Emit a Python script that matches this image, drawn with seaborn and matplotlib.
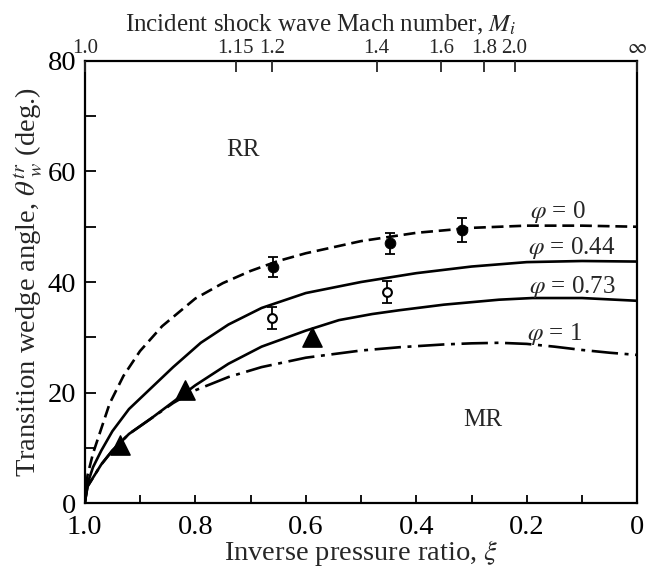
import matplotlib
matplotlib.use("Agg")
import matplotlib.pyplot as plt
import seaborn as sns

# curves: xi = inverse pressure ratio, theta = transition wedge angle (deg)
xi_phi0 = [1.0, 0.995, 0.985, 0.97, 0.955, 0.93, 0.9, 0.86, 0.8, 0.75, 0.7, 0.65,
           0.6, 0.5, 0.4, 0.3, 0.2, 0.1, 0.0]
theta_phi0 = [0, 5, 9, 13.5, 18, 23, 27.5, 32, 37, 39.8, 42, 43.8,
              45.2, 47.4, 48.9, 49.8, 50.2, 50.2, 50.0]

xi_phi044 = [1.0, 0.995, 0.985, 0.97, 0.95, 0.92, 0.88, 0.84, 0.79, 0.74, 0.68, 0.6,
             0.5, 0.45, 0.4, 0.3, 0.2, 0.1, 0.0]
theta_phi044 = [0, 3.5, 6.5, 9.5, 13, 17, 20.8, 24.6, 29.0, 32.3, 35.3, 38,
                40.0, 40.8, 41.6, 42.8, 43.6, 43.8, 43.7]

xi_phi073 = [1.0, 0.995, 0.985, 0.97, 0.95, 0.92, 0.88, 0.84, 0.8, 0.74, 0.68, 0.6,
             0.54, 0.48, 0.43, 0.35, 0.25, 0.19, 0.1, 0.0]
theta_phi073 = [0, 3.0, 4.6, 7.0, 9.5, 12.5, 15.3, 18.3, 21.3, 25.2, 28.3, 31.2,
                33.1, 34.2, 34.9, 35.9, 36.8, 37.1, 37.1, 36.6]

xi_phi1 = [1.0, 0.995, 0.985, 0.97, 0.95, 0.92, 0.88, 0.84, 0.8, 0.74, 0.68, 0.6,
           0.5, 0.43, 0.35, 0.3, 0.25, 0.2, 0.15, 0.1, 0.05, 0.0]
theta_phi1 = [0, 3.0, 4.6, 7.0, 9.5, 12.5, 15.3, 18.1, 20.4, 22.8, 24.6, 26.3,
              27.6, 28.2, 28.7, 28.9, 29.0, 28.8, 28.3, 27.7, 27.2, 26.8]

# experimental points
xi_filled = [0.66, 0.447, 0.317]
theta_filled = [42.7, 47.0, 49.4]
err_filled = [1.8, 1.9, 2.1]

xi_open = [0.661, 0.453]
theta_open = [33.5, 38.2]
err_open = [2.0, 2.0]

xi_tri = [0.937, 0.819, 0.589]
theta_tri = [10.5, 20.5, 30.0]

# top axis: incident shock Mach numbers
mach_values = [1.0, 1.15, 1.2, 1.4, 1.6, 1.8, 2.0]
mach_labels = ['1.0', '1.15', '1.2', '1.4', '1.6', '1.8', '2.0']
gamma = 1.4

sns.set_style("ticks")
plt.rcParams['font.family'] = ['Liberation Serif', 'DejaVu Serif']
plt.rcParams['mathtext.fontset'] = 'stix'

fig = plt.figure(figsize=(6.47, 5.70), dpi=100)
ax = fig.add_axes([0.131, 0.1175, 0.854, 0.7755])

lw = 1.9
sns.lineplot(x=xi_phi0, y=theta_phi0, ax=ax, color='black', lw=lw, sort=False, estimator=None)
ax.lines[-1].set_dashes([4.5, 2.2])
sns.lineplot(x=xi_phi044, y=theta_phi044, ax=ax, color='black', lw=lw, sort=False, estimator=None)
sns.lineplot(x=xi_phi073, y=theta_phi073, ax=ax, color='black', lw=lw, sort=False, estimator=None)
sns.lineplot(x=xi_phi1, y=theta_phi1, ax=ax, color='black', lw=lw, sort=False, estimator=None)
ax.lines[-1].set_dashes([10, 2.5, 1.5, 2.5])

ax.errorbar(xi_filled, theta_filled, yerr=err_filled, fmt='none', ecolor='black',
            elinewidth=1.3, capsize=3.5, capthick=1.3)
sns.scatterplot(x=xi_filled, y=theta_filled, ax=ax, color='black', s=60, marker='o',
                edgecolor='black', zorder=5)
ax.errorbar(xi_open, theta_open, yerr=err_open, fmt='none', ecolor='black',
            elinewidth=1.3, capsize=3.5, capthick=1.3)
sns.scatterplot(x=xi_open, y=theta_open, ax=ax, facecolor='white', s=40, marker='o',
                edgecolor='black', linewidth=1.5, zorder=5)
sns.scatterplot(x=xi_tri, y=theta_tri, ax=ax, color='black', s=190, marker='^',
                edgecolor='black', zorder=5)

fs = 20.5
tfs = 18
ax.text(0.714, 63.9, 'RR', ha='center', va='center', fontsize=tfs)
ax.text(0.279, 15.0, 'MR', ha='center', va='center', fontsize=tfs)
ax.text(0.143, 52.6, r'$\varphi$ = 0', ha='center', va='center', fontsize=tfs)
ax.text(0.118, 46.2, r'$\varphi$ = 0.44', ha='center', va='center', fontsize=tfs)
ax.text(0.118, 39.1, r'$\varphi$ = 0.73', ha='center', va='center', fontsize=tfs)
ax.text(0.149, 30.5, r'$\varphi$ = 1', ha='center', va='center', fontsize=tfs)

ax.set_xlim(1.0, 0.0)
ax.set_ylim(0, 80)
ax.set_xticks([1.0, 0.8, 0.6, 0.4, 0.2, 0.0])
ax.set_xticklabels(['1.0', '0.8', '0.6', '0.4', '0.2', '0'])
ax.set_xticks([0.9, 0.7, 0.5, 0.3, 0.1], minor=True)
ax.set_yticks([0, 20, 40, 60, 80])
ax.set_yticks([10, 30, 50, 70], minor=True)
ax.tick_params(axis='both', which='both', direction='in', width=1.3, colors='black',
               labelsize=fs, top=False, right=False)
ax.tick_params(axis='x', which='both', length=6, pad=8.5)
ax.tick_params(axis='y', which='both', length=8, pad=6)
for sp in ax.spines.values():
    sp.set_linewidth(1.6)
    sp.set_color('black')
    sp.set_visible(True)

ax.set_xlabel(r'Inverse pressure ratio, $\xi$', fontsize=fs, labelpad=-1.5)
ax.set_ylabel(r'Transition wedge angle, $\theta^{tr}_{\ w}$ (deg.)', fontsize=fs, labelpad=1)

ax2 = ax.twiny()
ax2.set_xlim(ax.get_xlim())
mach_xi = [(gamma + 1) / (2 * gamma * m ** 2 - (gamma - 1)) for m in mach_values]
ax2.set_xticks(mach_xi + [0.0])
ax2.set_xticklabels(mach_labels + [r'$\infty$'])
ax2.tick_params(axis='x', direction='in', length=8, width=1.3, labelsize=15, pad=2)
for sp in ax2.spines.values():
    sp.set_visible(False)
ax2.set_xlabel(r'Incident shock wave Mach number, $M_i$', fontsize=18)
ax2.xaxis.set_label_coords(0.426, 1.066)

fig.savefig('out.png', dpi=100, facecolor='white')
